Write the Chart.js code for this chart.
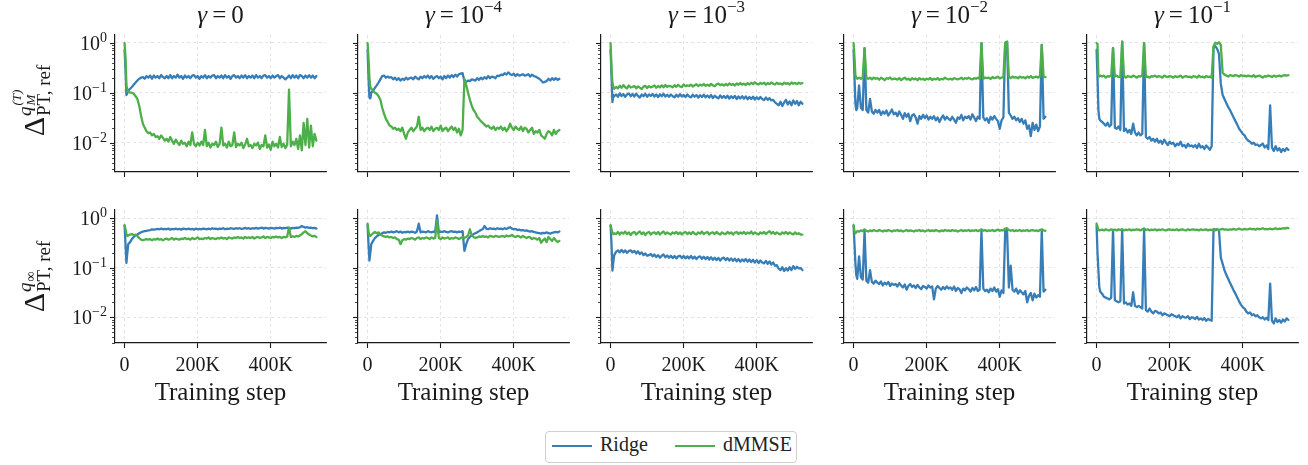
<!DOCTYPE html>
<html>
<head>
<meta charset="utf-8">
<script src="https://cdn.jsdelivr.net/npm/chart.js@4.4.1/dist/chart.umd.min.js"></script>
<style>
  body { margin: 0; background: #fff; width: 1308px; height: 465px; position: relative; overflow: hidden; }
  canvas { position: absolute; }
  #legend { position: absolute; left: 545px; top: 431px; width: 250px; height: 30px;
            border: 1px solid #cfcfcf; border-radius: 4px; background: #fff; }
  #legend .sw { position: absolute; top: 13px; width: 40px; height: 2px; }
  #legend .lb { position: absolute; top: 1px; line-height: 28px; font: 20px "Liberation Serif", serif; color: #222; }
</style>
</head>
<body>
<div id="legend"></div>
<script>
// training steps, in thousands
const steps = [0, 2.5, 5, 7.5, 10,
  15, 20, 25, 30, 35, 40, 45, 50, 55, 60,
  65, 70, 75, 80, 85, 90, 95, 100, 105, 110,
  115, 120, 125, 130, 135, 140, 145, 150, 155, 160,
  165, 170, 175, 180, 185, 190, 195, 200, 205, 210,
  215, 220, 225, 230, 235, 240, 245, 250, 255, 260,
  265, 270, 275, 280, 285, 290, 295, 300, 305, 310,
  315, 320, 325, 330, 335, 340, 345, 350, 355, 360,
  365, 370, 375, 380, 385, 390, 395, 400, 405, 410,
  415, 420, 425, 430, 435, 440, 445, 450, 455, 460,
  465, 470, 475, 480, 485, 490, 495, 500, 505, 510,
  515, 520, 525]

const seriesNames = ['Ridge', 'dMMSE']
const gammaExps = ['', '−4', '−3', '−2', '−1']
const xTicks = [0, 200, 400]
const xTickLabels = ['0', '200K', '400K']
const yMajor = [0.01, 0.1, 1]
const yMajorExp = ['−2', '−1', '0']
const yTicks = [0.003, 0.004, 0.005, 0.006, 0.007, 0.008, 0.009,
  0.01, 0.02, 0.03, 0.04, 0.05, 0.06, 0.07, 0.08, 0.09,
  0.1, 0.2, 0.3, 0.4, 0.5, 0.6, 0.7, 0.8, 0.9, 1]

////////// top row: Delta^{q_M^(T)} //////////
const ridgeTopG0 = [0.72, 0.3, 0.09, 0.1, 0.11,
  0.12, 0.13, 0.145, 0.16, 0.175, 0.19, 0.2, 0.205, 0.19, 0.215,
  0.2, 0.22, 0.19, 0.22, 0.2, 0.215, 0.195, 0.225, 0.205, 0.195,
  0.215, 0.195, 0.225, 0.195, 0.215, 0.2, 0.23, 0.2, 0.215, 0.19,
  0.22, 0.2, 0.215, 0.195, 0.22, 0.225, 0.2, 0.215, 0.19, 0.215,
  0.2, 0.225, 0.195, 0.215, 0.2, 0.22, 0.225, 0.195, 0.215, 0.2,
  0.22, 0.195, 0.225, 0.2, 0.215, 0.19, 0.215, 0.225, 0.2, 0.215,
  0.195, 0.22, 0.2, 0.225, 0.195, 0.215, 0.2, 0.22, 0.195, 0.225,
  0.2, 0.215, 0.195, 0.22, 0.225, 0.2, 0.215, 0.195, 0.22, 0.2,
  0.215, 0.225, 0.195, 0.215, 0.2, 0.185, 0.2, 0.22, 0.195, 0.225,
  0.2, 0.22, 0.195, 0.225, 0.215, 0.195, 0.22, 0.2, 0.225, 0.2,
  0.22, 0.195, 0.215]
const dmmseTopG0 = [0.98, 0.5, 0.14, 0.11, 0.105,
  0.1, 0.1, 0.095, 0.085, 0.075, 0.055, 0.035, 0.024, 0.02, 0.017,
  0.0155, 0.016, 0.014, 0.015, 0.013, 0.0135, 0.012, 0.014, 0.0125, 0.011,
  0.012, 0.0105, 0.013, 0.011, 0.0095, 0.0115, 0.01, 0.009, 0.011, 0.0095,
  0.01, 0.0085, 0.0105, 0.009, 0.016, 0.0095, 0.0085, 0.01, 0.0088, 0.0105,
  0.009, 0.018, 0.0085, 0.01, 0.008, 0.0095, 0.009, 0.0105, 0.0082, 0.0095,
  0.02, 0.0088, 0.0095, 0.008, 0.0105, 0.0085, 0.009, 0.016, 0.0082, 0.0095,
  0.0088, 0.01, 0.0078, 0.0092, 0.012, 0.0085, 0.009, 0.0078, 0.0095, 0.0088,
  0.01, 0.0075, 0.009, 0.0085, 0.014, 0.008, 0.0092, 0.0072, 0.0105, 0.0085,
  0.0095, 0.008, 0.013, 0.0082, 0.0095, 0.0078, 0.009, 0.115, 0.0085, 0.0105,
  0.009, 0.012, 0.0075, 0.014, 0.007, 0.025, 0.009, 0.03, 0.008, 0.022,
  0.0085, 0.015, 0.011]

const ridgeTopG1 = [0.72, 0.2, 0.08, 0.077, 0.1,
  0.11, 0.125, 0.14, 0.16, 0.185, 0.215, 0.22, 0.2, 0.21, 0.2,
  0.205, 0.185, 0.2, 0.18, 0.195, 0.175, 0.19, 0.18, 0.2, 0.185,
  0.195, 0.2, 0.185, 0.21, 0.195, 0.185, 0.21, 0.195, 0.215, 0.2,
  0.22, 0.195, 0.215, 0.19, 0.205, 0.215, 0.195, 0.21, 0.185, 0.215,
  0.195, 0.22, 0.2, 0.225, 0.205, 0.23, 0.21, 0.235, 0.24, 0.245,
  0.17, 0.165, 0.175, 0.17, 0.185, 0.18, 0.175, 0.195, 0.18, 0.2,
  0.185, 0.205, 0.19, 0.215, 0.195, 0.21, 0.205, 0.195, 0.22, 0.215,
  0.23, 0.225, 0.245, 0.23, 0.255, 0.235, 0.225, 0.24, 0.215, 0.235,
  0.22, 0.225, 0.235, 0.22, 0.225, 0.235, 0.21, 0.23, 0.215, 0.21,
  0.2, 0.19, 0.175, 0.16, 0.165, 0.17, 0.19, 0.175, 0.195, 0.18,
  0.195, 0.18, 0.19]
const dmmseTopG1 = [0.98, 0.5, 0.2, 0.13, 0.12,
  0.11, 0.1, 0.095, 0.085, 0.072, 0.05, 0.038, 0.03, 0.026, 0.022,
  0.021, 0.019, 0.02, 0.018, 0.019, 0.017, 0.02, 0.015, 0.012, 0.016,
  0.018, 0.02, 0.017, 0.019, 0.021, 0.033, 0.018, 0.02, 0.017, 0.019,
  0.02, 0.018, 0.021, 0.017, 0.019, 0.02, 0.018, 0.022, 0.017, 0.019,
  0.02, 0.017, 0.019, 0.021, 0.018, 0.02, 0.016, 0.019, 0.014, 0.018,
  0.19, 0.14, 0.1, 0.072, 0.055, 0.045, 0.04, 0.033, 0.03, 0.027,
  0.025, 0.023, 0.021, 0.022, 0.02, 0.019, 0.021, 0.018, 0.02, 0.019,
  0.021, 0.018, 0.02, 0.017, 0.019, 0.024, 0.02, 0.018, 0.021, 0.019,
  0.018, 0.021, 0.017, 0.02, 0.019, 0.016, 0.018, 0.02, 0.015, 0.017,
  0.016, 0.018, 0.014, 0.013, 0.012, 0.015, 0.017, 0.016, 0.014, 0.018,
  0.015, 0.017, 0.018]

const ridgeTopG2 = [0.72, 0.22, 0.065, 0.09, 0.085,
  0.092, 0.083, 0.097, 0.086, 0.094, 0.083, 0.092, 0.097, 0.085, 0.094,
  0.084, 0.096, 0.086, 0.08, 0.092, 0.085, 0.095, 0.083, 0.092, 0.086,
  0.094, 0.084, 0.092, 0.082, 0.093, 0.085, 0.095, 0.084, 0.091, 0.083,
  0.092, 0.085, 0.081, 0.091, 0.083, 0.093, 0.084, 0.09, 0.082, 0.092,
  0.084, 0.081, 0.091, 0.083, 0.09, 0.08, 0.089, 0.082, 0.091, 0.081,
  0.088, 0.08, 0.09, 0.078, 0.087, 0.081, 0.077, 0.088, 0.079, 0.086,
  0.078, 0.087, 0.076, 0.085, 0.078, 0.086, 0.075, 0.084, 0.077, 0.085,
  0.076, 0.084, 0.074, 0.082, 0.075, 0.083, 0.073, 0.081, 0.074, 0.082,
  0.075, 0.071, 0.08, 0.072, 0.078, 0.07, 0.072, 0.064, 0.06, 0.056,
  0.066, 0.054, 0.064, 0.072, 0.058, 0.067, 0.056, 0.07, 0.06, 0.068,
  0.056, 0.066, 0.06]
const dmmseTopG2 = [0.98, 0.3, 0.16, 0.13, 0.12,
  0.13, 0.122, 0.138, 0.125, 0.142, 0.128, 0.122, 0.14, 0.127, 0.13,
  0.137, 0.122, 0.134, 0.126, 0.118, 0.132, 0.137, 0.124, 0.135, 0.128,
  0.132, 0.14, 0.126, 0.136, 0.128, 0.14, 0.129, 0.143, 0.131, 0.137,
  0.134, 0.128, 0.141, 0.131, 0.144, 0.133, 0.129, 0.146, 0.135, 0.14,
  0.136, 0.145, 0.133, 0.141, 0.148, 0.136, 0.145, 0.139, 0.149, 0.137,
  0.144, 0.137, 0.15, 0.14, 0.135, 0.147, 0.152, 0.141, 0.148, 0.139,
  0.149, 0.14, 0.153, 0.143, 0.15, 0.139, 0.153, 0.144, 0.156, 0.145,
  0.152, 0.142, 0.156, 0.146, 0.158, 0.148, 0.162, 0.15, 0.146, 0.157,
  0.15, 0.159, 0.145, 0.156, 0.148, 0.16, 0.151, 0.146, 0.158, 0.149,
  0.154, 0.145, 0.159, 0.15, 0.156, 0.146, 0.16, 0.151, 0.157, 0.148,
  0.158, 0.151, 0.155]

const ridgeTopG3 = [0.72, 0.2, 0.06, 0.045, 0.05,
  0.14, 0.05, 0.045, 0.78, 0.045, 0.04, 0.075, 0.042, 0.038, 0.045,
  0.04, 0.045, 0.036, 0.042, 0.038, 0.044, 0.035, 0.04, 0.046, 0.037,
  0.04, 0.034, 0.042, 0.036, 0.03, 0.039, 0.033, 0.038, 0.027, 0.035,
  0.037, 0.032, 0.024, 0.034, 0.03, 0.036, 0.031, 0.035, 0.029, 0.033,
  0.03, 0.034, 0.028, 0.032, 0.026, 0.031, 0.035, 0.029, 0.033, 0.03,
  0.028, 0.033, 0.029, 0.025, 0.032, 0.03, 0.036, 0.028, 0.033, 0.031,
  0.034, 0.029, 0.037, 0.032, 0.027, 0.033, 0.03, 0.98, 0.032, 0.028,
  0.031, 0.025, 0.033, 0.029, 0.034, 0.03, 0.027, 0.019, 0.028, 0.032,
  1.0, 1.05, 0.04, 0.035, 0.03, 0.033, 0.028, 0.031, 0.026, 0.03,
  0.024, 0.028, 0.019, 0.022, 0.0135, 0.025, 0.018, 0.023, 0.017, 0.021,
  0.9, 0.03, 0.033]
const dmmseTopG3 = [0.98, 0.5, 0.22, 0.2, 0.19,
  0.2, 0.19, 0.2, 0.78, 0.2, 0.19, 0.2, 0.185, 0.2, 0.19,
  0.195, 0.182, 0.2, 0.19, 0.178, 0.195, 0.19, 0.202, 0.184, 0.19,
  0.19, 0.182, 0.196, 0.178, 0.19, 0.2, 0.183, 0.19, 0.178, 0.195,
  0.185, 0.192, 0.178, 0.196, 0.184, 0.19, 0.18, 0.19, 0.185, 0.197,
  0.18, 0.19, 0.184, 0.196, 0.18, 0.19, 0.185, 0.2, 0.19, 0.184,
  0.19, 0.183, 0.196, 0.19, 0.184, 0.19, 0.2, 0.185, 0.196, 0.19,
  0.2, 0.19, 0.184, 0.196, 0.19, 0.2, 0.19, 0.98, 0.19, 0.2,
  0.195, 0.2, 0.188, 0.205, 0.195, 0.2, 0.21, 0.194, 0.2, 0.205,
  1.0, 1.05, 0.21, 0.195, 0.21, 0.2, 0.205, 0.194, 0.21, 0.2,
  0.205, 0.194, 0.21, 0.2, 0.215, 0.198, 0.205, 0.21, 0.2, 0.215,
  0.9, 0.21, 0.205]

const ridgeTopG4 = [0.72, 0.2, 0.045, 0.03, 0.028,
  0.026, 0.024, 0.022, 0.025, 0.021, 0.023, 0.78, 0.02, 0.019, 0.021,
  0.018, 1.05, 0.017, 0.019, 0.016, 0.018, 0.015, 0.024, 0.016, 0.014,
  0.016, 0.014, 0.015, 0.98, 0.013, 0.012, 0.013, 0.011, 0.012, 0.0105,
  0.012, 0.01, 0.011, 0.0095, 0.0115, 0.01, 0.009, 0.0105, 0.0095, 0.01,
  0.0085, 0.0095, 0.009, 0.0105, 0.0085, 0.009, 0.008, 0.0095, 0.0085, 0.0088,
  0.0082, 0.009, 0.0078, 0.0095, 0.008, 0.0085, 0.0075, 0.0088, 0.008, 0.0072,
  0.0085, 0.8, 0.85, 0.75, 0.6, 0.15, 0.09, 0.075, 0.062, 0.052,
  0.045, 0.038, 0.032, 0.027, 0.023, 0.019, 0.017, 0.015, 0.014, 0.012,
  0.011, 0.0105, 0.0095, 0.01, 0.009, 0.0092, 0.0085, 0.009, 0.0095, 0.008,
  0.0088, 0.0075, 0.056, 0.008, 0.0068, 0.0085, 0.007, 0.0078, 0.0065, 0.0075,
  0.0068, 0.0078, 0.0072]
const dmmseTopG4 = [0.98, 0.95, 0.22, 0.21, 0.22,
  0.21, 0.22, 0.2, 0.215, 0.21, 0.22, 0.78, 0.21, 0.22, 0.205,
  0.21, 1.05, 0.22, 0.2, 0.215, 0.21, 0.205, 0.22, 0.21, 0.2,
  0.215, 0.21, 0.22, 0.98, 0.205, 0.21, 0.2, 0.215, 0.21, 0.22,
  0.205, 0.215, 0.21, 0.2, 0.22, 0.21, 0.205, 0.215, 0.21, 0.2,
  0.215, 0.205, 0.21, 0.22, 0.2, 0.21, 0.215, 0.205, 0.21, 0.2,
  0.215, 0.21, 0.2, 0.22, 0.205, 0.21, 0.2, 0.215, 0.205, 0.21,
  0.2, 0.85, 1.0, 0.95, 1.02, 0.9, 0.25, 0.23, 0.22, 0.21,
  0.225, 0.22, 0.215, 0.225, 0.22, 0.21, 0.225, 0.215, 0.22, 0.21,
  0.22, 0.215, 0.21, 0.225, 0.205, 0.215, 0.22, 0.21, 0.2, 0.215,
  0.21, 0.22, 0.215, 0.205, 0.22, 0.21, 0.215, 0.22, 0.21, 0.22,
  0.225, 0.22, 0.225]

////////// bottom row: Delta^{q_inf} //////////
const ridgeBotG0 = [0.72, 0.3, 0.125, 0.2, 0.3,
  0.33, 0.38, 0.42, 0.45, 0.47, 0.5, 0.52, 0.54, 0.55, 0.56,
  0.57, 0.58, 0.6, 0.59, 0.6, 0.61, 0.6, 0.62, 0.6, 0.61,
  0.6, 0.62, 0.59, 0.61, 0.6, 0.62, 0.6, 0.61, 0.59, 0.62,
  0.61, 0.6, 0.62, 0.6, 0.61, 0.59, 0.62, 0.6, 0.61, 0.6,
  0.62, 0.61, 0.6, 0.62, 0.6, 0.63, 0.61, 0.62, 0.6, 0.62,
  0.61, 0.63, 0.6, 0.62, 0.61, 0.63, 0.62, 0.61, 0.63, 0.62,
  0.63, 0.61, 0.62, 0.64, 0.62, 0.63, 0.61, 0.63, 0.62, 0.64,
  0.62, 0.63, 0.65, 0.62, 0.64, 0.63, 0.62, 0.64, 0.63, 0.62,
  0.64, 0.63, 0.65, 0.62, 0.64, 0.63, 0.65, 0.64, 0.62, 0.64,
  0.63, 0.65, 0.64, 0.66, 0.7, 0.67, 0.65, 0.66, 0.64, 0.65,
  0.63, 0.64, 0.62]
const dmmseBotG0 = [0.72, 0.6, 0.48, 0.44, 0.45,
  0.47, 0.48, 0.46, 0.47, 0.44, 0.4, 0.37, 0.36, 0.37, 0.38,
  0.37, 0.38, 0.36, 0.38, 0.37, 0.39, 0.37, 0.38, 0.36, 0.38,
  0.39, 0.37, 0.38, 0.4, 0.37, 0.39, 0.38, 0.37, 0.39, 0.38,
  0.4, 0.38, 0.39, 0.37, 0.4, 0.38, 0.39, 0.41, 0.38, 0.39,
  0.38, 0.4, 0.39, 0.41, 0.38, 0.4, 0.39, 0.38, 0.4, 0.39,
  0.41, 0.39, 0.4, 0.38, 0.41, 0.4, 0.39, 0.41, 0.4, 0.42,
  0.4, 0.41, 0.39, 0.42, 0.4, 0.41, 0.4, 0.42, 0.39, 0.41,
  0.42, 0.4, 0.41, 0.43, 0.4, 0.42, 0.41, 0.4, 0.42, 0.41,
  0.43, 0.41, 0.42, 0.4, 0.42, 0.41, 0.43, 0.65, 0.42, 0.43,
  0.42, 0.44, 0.43, 0.45, 0.48, 0.52, 0.55, 0.5, 0.47, 0.45,
  0.43, 0.44, 0.42]

const ridgeBotG1 = [0.72, 0.3, 0.14, 0.2, 0.3,
  0.35, 0.4, 0.43, 0.46, 0.48, 0.5, 0.52, 0.51, 0.53, 0.52,
  0.54, 0.52, 0.53, 0.55, 0.52, 0.54, 0.51, 0.53, 0.52, 0.54,
  0.52, 0.54, 0.53, 0.51, 0.54, 0.78, 0.52, 0.54, 0.53, 0.52,
  0.55, 0.53, 0.52, 0.54, 0.53, 1.15, 0.52, 0.54, 0.53, 0.55,
  0.53, 0.52, 0.54, 0.55, 0.53, 0.54, 0.52, 0.54, 0.53, 0.55,
  0.22, 0.3, 0.38, 0.42, 0.45, 0.48, 0.5, 0.52, 0.55, 0.58,
  0.6, 0.7, 0.62, 0.6, 0.63, 0.61, 0.62, 0.6, 0.63, 0.61,
  0.62, 0.6, 0.63, 0.61, 0.64, 0.66, 0.62, 0.6, 0.61, 0.58,
  0.59, 0.57, 0.58, 0.56, 0.57, 0.55, 0.54, 0.55, 0.53, 0.52,
  0.51, 0.5, 0.49, 0.51, 0.5, 0.52, 0.5, 0.49, 0.51, 0.52,
  0.53, 0.52, 0.54]
const dmmseBotG1 = [0.78, 0.55, 0.45, 0.44, 0.46,
  0.5, 0.53, 0.5, 0.52, 0.46, 0.45, 0.43, 0.42, 0.43, 0.41,
  0.42, 0.4, 0.41, 0.38, 0.37, 0.3, 0.36, 0.38, 0.37, 0.39,
  0.38, 0.4, 0.39, 0.37, 0.4, 0.41, 0.38, 0.4, 0.39, 0.41,
  0.4, 0.38, 0.41, 0.39, 0.4, 0.9, 0.4, 0.38, 0.41, 0.39,
  0.4, 0.41, 0.38, 0.4, 0.39, 0.41, 0.4, 0.38, 0.4, 0.42,
  0.4, 0.42, 0.45, 0.6, 0.45, 0.42, 0.4, 0.41, 0.43, 0.42,
  0.44, 0.42, 0.43, 0.41, 0.44, 0.43, 0.42, 0.44, 0.43, 0.42,
  0.43, 0.44, 0.42, 0.45, 0.43, 0.44, 0.46, 0.43, 0.42, 0.44,
  0.43, 0.41, 0.44, 0.42, 0.4, 0.42, 0.41, 0.38, 0.4, 0.39,
  0.37, 0.4, 0.32, 0.36, 0.39, 0.33, 0.42, 0.38, 0.35, 0.4,
  0.36, 0.33, 0.35]

const ridgeBotG2 = [0.72, 0.3, 0.088, 0.13, 0.18,
  0.21, 0.225, 0.205, 0.23, 0.205, 0.225, 0.2, 0.22, 0.225, 0.205,
  0.22, 0.195, 0.215, 0.19, 0.205, 0.18, 0.195, 0.175, 0.18, 0.19,
  0.17, 0.185, 0.165, 0.18, 0.16, 0.175, 0.185, 0.163, 0.177, 0.16,
  0.175, 0.157, 0.173, 0.155, 0.17, 0.175, 0.157, 0.173, 0.155, 0.17,
  0.155, 0.173, 0.153, 0.168, 0.15, 0.165, 0.17, 0.152, 0.167, 0.15,
  0.165, 0.147, 0.163, 0.145, 0.16, 0.143, 0.158, 0.14, 0.155, 0.16,
  0.143, 0.157, 0.14, 0.155, 0.138, 0.153, 0.135, 0.15, 0.133, 0.148,
  0.135, 0.15, 0.133, 0.147, 0.13, 0.145, 0.127, 0.143, 0.125, 0.14,
  0.128, 0.123, 0.138, 0.12, 0.135, 0.116, 0.128, 0.11, 0.113, 0.096,
  0.09, 0.103, 0.086, 0.098, 0.088, 0.103, 0.09, 0.108, 0.095, 0.105,
  0.097, 0.099, 0.09]
const dmmseBotG2 = [0.72, 0.6, 0.5, 0.48, 0.5,
  0.48, 0.53, 0.47, 0.52, 0.49, 0.54, 0.48, 0.52, 0.46, 0.51,
  0.53, 0.47, 0.51, 0.54, 0.48, 0.52, 0.46, 0.51, 0.53, 0.47,
  0.51, 0.52, 0.48, 0.53, 0.47, 0.51, 0.54, 0.48, 0.52, 0.49,
  0.47, 0.52, 0.49, 0.53, 0.48, 0.52, 0.47, 0.51, 0.53, 0.48,
  0.52, 0.48, 0.53, 0.49, 0.47, 0.52, 0.49, 0.54, 0.48, 0.51,
  0.53, 0.47, 0.51, 0.52, 0.48, 0.53, 0.49, 0.47, 0.52, 0.49,
  0.48, 0.53, 0.49, 0.52, 0.47, 0.51, 0.53, 0.48, 0.52, 0.49,
  0.53, 0.48, 0.52, 0.49, 0.54, 0.48, 0.52, 0.49, 0.47, 0.52,
  0.49, 0.53, 0.48, 0.52, 0.55, 0.49, 0.53, 0.48, 0.52, 0.49,
  0.47, 0.52, 0.49, 0.53, 0.48, 0.52, 0.49, 0.47, 0.52, 0.48,
  0.5, 0.47, 0.47]

const ridgeBotG3 = [0.72, 0.3, 0.12, 0.07, 0.06,
  0.17, 0.065, 0.058, 0.56, 0.055, 0.05, 0.09, 0.052, 0.048, 0.055,
  0.05, 0.047, 0.053, 0.044, 0.05, 0.046, 0.052, 0.043, 0.048, 0.045,
  0.047, 0.042, 0.049, 0.044, 0.04, 0.046, 0.036, 0.043, 0.047, 0.041,
  0.044, 0.039, 0.045, 0.04, 0.037, 0.043, 0.041, 0.038, 0.044, 0.04,
  0.042, 0.023, 0.038, 0.043, 0.039, 0.036, 0.041, 0.037, 0.042, 0.038,
  0.04, 0.036, 0.042, 0.034, 0.039, 0.037, 0.031, 0.038, 0.035, 0.04,
  0.037, 0.033, 0.039, 0.035, 0.041, 0.034, 0.036, 0.56, 0.038, 0.034,
  0.036, 0.032, 0.038, 0.034, 0.04, 0.033, 0.037, 0.026, 0.035, 0.031,
  0.56, 0.58, 0.04, 0.11, 0.036, 0.033, 0.038, 0.03, 0.035, 0.032,
  0.029, 0.034, 0.02, 0.027, 0.031, 0.022, 0.03, 0.025, 0.028, 0.026,
  0.56, 0.033, 0.036]
const dmmseBotG3 = [0.72, 0.55, 0.5, 0.52, 0.55,
  0.54, 0.57, 0.55, 0.6, 0.56, 0.54, 0.57, 0.55, 0.58, 0.56,
  0.55, 0.58, 0.56, 0.54, 0.57, 0.55, 0.58, 0.56, 0.54, 0.57,
  0.56, 0.58, 0.55, 0.57, 0.54, 0.56, 0.58, 0.55, 0.57, 0.56,
  0.54, 0.57, 0.56, 0.58, 0.55, 0.57, 0.54, 0.56, 0.58, 0.55,
  0.57, 0.55, 0.58, 0.56, 0.54, 0.57, 0.55, 0.58, 0.56, 0.57,
  0.55, 0.58, 0.56, 0.57, 0.54, 0.56, 0.58, 0.55, 0.57, 0.56,
  0.58, 0.55, 0.57, 0.56, 0.58, 0.55, 0.57, 0.6, 0.56, 0.58,
  0.55, 0.57, 0.56, 0.58, 0.55, 0.57, 0.59, 0.56, 0.58, 0.57,
  0.62, 0.63, 0.58, 0.56, 0.58, 0.55, 0.57, 0.56, 0.58, 0.55,
  0.57, 0.56, 0.58, 0.55, 0.57, 0.58, 0.56, 0.57, 0.55, 0.58,
  0.6, 0.57, 0.56]

const ridgeBotG4 = [0.72, 0.2, 0.088, 0.04, 0.033,
  0.03, 0.026, 0.025, 0.024, 0.023, 0.025, 0.58, 0.022, 0.021, 0.02,
  0.021, 0.6, 0.019, 0.02, 0.018, 0.019, 0.017, 0.032, 0.017, 0.016,
  0.017, 0.016, 0.015, 0.62, 0.014, 0.013, 0.015, 0.013, 0.012, 0.0135,
  0.013, 0.012, 0.0125, 0.011, 0.012, 0.0115, 0.011, 0.0105, 0.0115, 0.011,
  0.0105, 0.01, 0.011, 0.0095, 0.0105, 0.01, 0.0098, 0.0105, 0.0092, 0.01,
  0.0098, 0.0092, 0.0102, 0.009, 0.0095, 0.0088, 0.0096, 0.0085, 0.0092, 0.0088,
  0.0085, 0.6, 0.6, 0.6, 0.58, 0.16, 0.12, 0.09, 0.072, 0.06,
  0.05, 0.042, 0.035, 0.03, 0.025, 0.021, 0.018, 0.016, 0.015, 0.013,
  0.012, 0.0125, 0.011, 0.0115, 0.0105, 0.011, 0.01, 0.0095, 0.01, 0.009,
  0.0098, 0.0088, 0.048, 0.0085, 0.0075, 0.0095, 0.008, 0.0088, 0.0078, 0.009,
  0.0082, 0.0095, 0.0088]
const dmmseBotG4 = [0.78, 0.68, 0.58, 0.57, 0.58,
  0.59, 0.57, 0.6, 0.58, 0.57, 0.6, 0.58, 0.59, 0.57, 0.6,
  0.58, 0.6, 0.57, 0.59, 0.58, 0.6, 0.57, 0.59, 0.58, 0.6,
  0.59, 0.57, 0.6, 0.62, 0.58, 0.6, 0.57, 0.59, 0.58, 0.6,
  0.57, 0.59, 0.58, 0.6, 0.58, 0.57, 0.59, 0.6, 0.58, 0.59,
  0.58, 0.6, 0.57, 0.59, 0.6, 0.58, 0.57, 0.6, 0.58, 0.59,
  0.6, 0.58, 0.59, 0.57, 0.6, 0.58, 0.59, 0.6, 0.57, 0.59,
  0.58, 0.6, 0.57, 0.59, 0.58, 0.6, 0.61, 0.59, 0.6, 0.58,
  0.6, 0.59, 0.61, 0.59, 0.6, 0.62, 0.6, 0.59, 0.61, 0.6,
  0.6, 0.62, 0.6, 0.61, 0.59, 0.62, 0.6, 0.61, 0.63, 0.6,
  0.61, 0.6, 0.62, 0.6, 0.61, 0.63, 0.6, 0.62, 0.61, 0.63,
  0.62, 0.64, 0.63]

const ridgeTop = [ridgeTopG0, ridgeTopG1, ridgeTopG2, ridgeTopG3, ridgeTopG4]
const dmmseTop = [dmmseTopG0, dmmseTopG1, dmmseTopG2, dmmseTopG3, dmmseTopG4]
const ridgeBot = [ridgeBotG0, ridgeBotG1, ridgeBotG2, ridgeBotG3, ridgeBotG4]
const dmmseBot = [dmmseBotG0, dmmseBotG1, dmmseBotG2, dmmseBotG3, dmmseBotG4]

////////// layout / style //////////
const colors = ['#377eb8', '#4daf4a']
const serif = '"Liberation Serif", "DejaVu Serif", serif'
const ink = '#1a1a1a'
const colLeft = [115, 358, 601, 844, 1087]
const plotWidth = 211
const rows = [
  {top: 35, height: 137, padTop: 35, padBottom: 12, yMin: 10 ** -2.586, yMax: 10 ** 0.154},
  {top: 210, height: 133, padTop: 20, padBottom: 70, yMin: 10 ** -2.52, yMax: 10 ** 0.168}
]

fontOf = p => (p.italic ? 'italic ' : '') + p.size + 'px ' + serif

drawPieces = (ctx, pieces, x, y, align) => {
  let total = 0
  pieces.forEach(p => {
    ctx.font = fontOf(p)
    p.w = ctx.measureText(p.t).width
    total += p.w + (p.gap || 0)
  })
  let cx = align === 'center' ? x - total / 2 : (align === 'right' ? x - total : x)
  ctx.textAlign = 'left'
  ctx.textBaseline = 'alphabetic'
  pieces.forEach(p => {
    ctx.font = fontOf(p)
    ctx.fillText(p.t, cx, y - (p.rise || 0))
    cx += p.w + (p.gap || 0)
  })
}

drawYLabel = (ctx, row, x, y) => {
  ctx.save()
  ctx.translate(x, y)
  ctx.rotate(-Math.PI / 2)
  ctx.textAlign = 'left'
  ctx.textBaseline = 'alphabetic'
  const big = {t: 'Δ', size: 30}
  const sub = {t: 'PT, ref', size: 19}
  const q = {t: 'q', size: 19, italic: true}
  const parts = row === 0
    ? [{t: 'M', size: 13, italic: true, rise: 9}, {t: '(T)', size: 13, italic: true, rise: 23}]
    : [{t: '∞', size: 14, rise: 9}]
  ;[big, sub, q, ...parts].forEach(p => { ctx.font = fontOf(p); p.w = ctx.measureText(p.t).width })
  const supW = q.w + Math.max(...parts.map(p => p.w)) + 1
  const total = big.w + 1 + Math.max(sub.w, supW)
  const u0 = -total / 2
  const u1 = u0 + big.w + 1
  ctx.font = fontOf(big); ctx.fillText(big.t, u0, 0)
  ctx.font = fontOf(sub); ctx.fillText(sub.t, u1, 6)
  ctx.font = fontOf(q); ctx.fillText(q.t, u1, -13)
  parts.forEach(p => { ctx.font = fontOf(p); ctx.fillText(p.t, u1 + q.w + 1, -p.rise) })
  ctx.restore()
}

decorations = (row, col) => ({
  id: 'decor' + row + col,
  afterDraw(chart) {
    const ctx = chart.ctx
    const {left, right, top, bottom} = chart.chartArea
    const ys = chart.scales.y
    const xs = chart.scales.x
    ctx.save()
    ctx.strokeStyle = ink
    ctx.fillStyle = ink
    // log ticks, major and minor
    yTicks.forEach(v => {
      const major = yMajor.includes(v)
      const py = Math.round(ys.getPixelForValue(v)) + 0.5
      ctx.lineWidth = major ? 1.1 : 0.8
      ctx.beginPath()
      ctx.moveTo(left - (major ? 5 : 3), py)
      ctx.lineTo(left, py)
      ctx.stroke()
    })
    if (col === 0) {
      yMajor.forEach((v, i) => {
        const py = ys.getPixelForValue(v)
        drawPieces(ctx, [{t: '10', size: 20}, {t: yMajorExp[i], size: 14, rise: 8}], left - 8, py + 7, 'right')
      })
      drawYLabel(ctx, row, 44, (top + bottom) / 2 - (row === 0 ? 3 : 0))
    }
    if (row === 0) {
      const title = [{t: 'γ', size: 25, italic: true, gap: 5}, {t: '=', size: 25, gap: 5}]
      if (gammaExps[col]) {
        title.push({t: '10', size: 25}, {t: gammaExps[col], size: 17, rise: 11})
      } else {
        title.push({t: '0', size: 25})
      }
      drawPieces(ctx, title, (left + right) / 2, top - 12, 'center')
    } else {
      xTicks.forEach((v, i) => {
        drawPieces(ctx, [{t: xTickLabels[i], size: 20}], xs.getPixelForValue(v * 1000), bottom + 28, 'center')
      })
      drawPieces(ctx, [{t: 'Training step', size: 25}], (left + right) / 2, bottom + 57, 'center')
    }
    ctx.restore()
  }
})

makePanel = (row, col, ridge, dmmse) => {
  const r = rows[row]
  const padL = col === 0 ? colLeft[0] : 12
  const padR = 12
  const canvas = document.createElement('canvas')
  canvas.width = padL + plotWidth + padR
  canvas.height = r.padTop + r.height + r.padBottom
  canvas.style.left = (colLeft[col] - padL) + 'px'
  canvas.style.top = (r.top - r.padTop) + 'px'
  document.body.appendChild(canvas)

  const toPoints = vals => vals.map((v, i) => ({x: steps[i] * 1000, y: v}))
  return new Chart(canvas.getContext('2d'), {
    type: 'line',
    data: {
      datasets: [
        {label: seriesNames[0], data: toPoints(ridge), borderColor: colors[0], order: 1},
        {label: seriesNames[1], data: toPoints(dmmse), borderColor: colors[1], order: 0}
      ]
    },
    options: {
      responsive: false,
      animation: false,
      devicePixelRatio: 1,
      layout: {padding: {left: padL, right: padR, top: r.padTop, bottom: r.padBottom}},
      elements: {
        line: {borderWidth: 2.3, tension: 0, borderJoinStyle: 'round', borderCapStyle: 'round'},
        point: {radius: 0}
      },
      plugins: {legend: {display: false}, tooltip: {enabled: false}},
      scales: {
        x: {
          type: 'linear',
          min: -26250,
          max: 551250,
          ticks: {display: false},
          grid: {color: 'rgba(0,0,0,0.14)', lineWidth: 0.8, drawTicks: true, tickLength: 5,
                 tickColor: ink, tickWidth: 1.1},
          border: {display: true, color: ink, width: 1.2, dash: [3, 3]},
          afterBuildTicks: s => { s.ticks = xTicks.map(v => ({value: v * 1000})) },
          afterFit: s => { s.height = 0 }
        },
        y: {
          type: 'logarithmic',
          min: r.yMin,
          max: r.yMax,
          ticks: {display: false},
          grid: {
            color: 'rgba(0,0,0,0.14)',
            lineWidth: c => (c.tick && yMajor.includes(c.tick.value)) ? 0.8 : 0,
            drawTicks: false
          },
          border: {display: true, color: ink, width: 1.2, dash: [3, 3]},
          afterBuildTicks: s => { s.ticks = yTicks.map(v => ({value: v})) },
          afterFit: s => { s.width = 0 }
        }
      }
    },
    plugins: [decorations(row, col)]
  })
}

for (let c = 0; c < 5; c++) {
  makePanel(0, c, ridgeTop[c], dmmseTop[c])
  makePanel(1, c, ridgeBot[c], dmmseBot[c])
}

////////// legend //////////
const legend = document.getElementById('legend')
const legendX = [6, 129]
seriesNames.forEach((name, i) => {
  const sw = document.createElement('span')
  sw.className = 'sw'
  sw.style.left = legendX[i] + 'px'
  sw.style.background = colors[i]
  legend.appendChild(sw)
  const lb = document.createElement('span')
  lb.className = 'lb'
  lb.style.left = (legendX[i] + 48) + 'px'
  lb.textContent = name
  legend.appendChild(lb)
})
</script>
</body>
</html>
